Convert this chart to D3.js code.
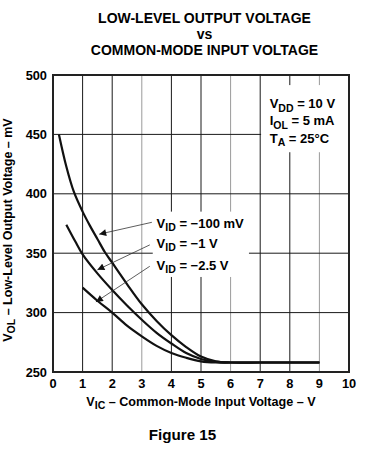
<!DOCTYPE html>
<html>
<head>
<meta charset="utf-8">
<script src="https://cdn.jsdelivr.net/npm/d3@7"></script>
<style>
  html, body { margin: 0; padding: 0; background: #fff; }
  svg { display: block; font-family: "Liberation Sans", Arial, Helvetica, sans-serif; font-weight: bold; }
</style>
</head>
<body>
<svg id="chart" width="367" height="450"></svg>
<script>
// ---- data ----
const xTicks = [0, 1, 2, 3, 4, 5, 6, 7, 8, 9, 10];
const yTicks = [250, 300, 350, 400, 450, 500];

const seriesNames = ["−100 mV", "−1 V", "−2.5 V"];
const vic100mV = [0.2, 0.45, 0.7, 1.0, 1.25, 1.5, 1.75, 2.0, 2.5, 3.0, 3.5, 4.0, 4.5, 5.0, 5.5, 6.0, 7.0, 8.0, 9.0];
const vol100mV = [450, 423, 402, 385, 373, 362, 351, 342, 324, 307, 293, 281, 271, 263, 259, 258, 258, 258, 258];
const vic1V = [0.45, 0.75, 1.0, 1.5, 2.0, 2.5, 3.0, 3.5, 4.0, 4.5, 5.0, 5.5, 6.0, 7.0, 8.0, 9.0];
const vol1V = [374, 360, 349, 333, 319, 306, 294, 283, 274, 266, 261, 258.5, 258, 258, 258, 258];
const vic25V = [1.0, 1.5, 2.0, 2.5, 3.0, 3.5, 4.0, 4.5, 5.0, 5.5, 6.0, 7.0, 8.0, 9.0];
const vol25V = [321, 310, 300, 289, 280, 272, 266, 262, 259, 258, 258, 258, 258, 258];

// annotation anchors in data units: label position, arrow start, arrow tip
const labelX = [3.5, 3.5, 3.5];
const labelY = [371.6, 354.4, 335.9];
const arrowFrom = [[3.34, 376], [3.27, 357], [3.27, 339]];
const arrowTo = [[1.56, 366], [1.50, 336], [1.45, 309]];

const conditions = [["V", "DD", " = 10 V"], ["I", "OL", " = 5 mA"], ["T", "A", " = 25°C"]];
const condX = 7.32;
const condY = [472.2, 457.9, 443];

// ---- layout ----
const svg = d3.select("#chart");
const x = d3.scaleLinear().domain([0, 10]).range([53, 349]);
const y = d3.scaleLinear().domain([250, 500]).range([372, 75]);
const SUB = 10.5, SUBDY = 3.5;

// titles
const titles = [["LOW-LEVEL OUTPUT VOLTAGE", 22.5], ["vs", 38.5], ["COMMON-MODE INPUT VOLTAGE", 55]];
svg.selectAll("text.title").data(titles).enter().append("text")
  .attr("class", "title")
  .attr("x", 204.5).attr("y", d => d[1])
  .attr("text-anchor", "middle")
  .attr("font-size", 14)
  .text(d => d[0]);

// grid
const gridColor = v => (v === 3 || v === 6 || v === 9) ? "#9a9a9a" : "#1a1a1a";
svg.append("g").selectAll("line").data(xTicks.slice(1, -1)).enter().append("line")
  .attr("x1", d => x(d)).attr("x2", d => x(d))
  .attr("y1", y(500)).attr("y2", y(250))
  .attr("stroke", gridColor).attr("stroke-width", 1);
svg.append("g").selectAll("line").data(yTicks.slice(1, -1)).enter().append("line")
  .attr("x1", x(0)).attr("x2", x(10))
  .attr("y1", d => y(d)).attr("y2", d => y(d))
  .attr("stroke", "#1a1a1a").attr("stroke-width", 1);

// white boxes behind annotations
svg.append("rect").attr("x", x(7.03)).attr("y", y(491.5))
  .attr("width", x(10) - x(7.03)).attr("height", y(435) - y(491.5)).attr("fill", "#fff");
svg.append("rect").attr("x", x(3.37)).attr("y", y(385))
  .attr("width", x(6.62) - x(3.37)).attr("height", y(330) - y(385)).attr("fill", "#fff");

// curves
const line = d3.line().x(d => x(d[0])).y(d => y(d[1])).curve(d3.curveCatmullRom.alpha(0.5));
const series = [
  d3.zip(vic100mV, vol100mV),
  d3.zip(vic1V, vol1V),
  d3.zip(vic25V, vol25V)
];
svg.append("g").selectAll("path").data(series).enter().append("path")
  .attr("d", line)
  .attr("fill", "none").attr("stroke", "#111").attr("stroke-width", 2.2);

// frame
svg.append("rect").attr("x", x(0)).attr("y", y(500))
  .attr("width", x(10) - x(0)).attr("height", y(250) - y(500))
  .attr("fill", "none").attr("stroke", "#222").attr("stroke-width", 2);

// axes tick labels
svg.append("g").selectAll("text").data(yTicks).enter().append("text")
  .attr("x", 47).attr("y", d => y(d) + 4.5)
  .attr("text-anchor", "end").attr("font-size", 12.8)
  .text(d => d);
svg.append("g").selectAll("text").data(xTicks).enter().append("text")
  .attr("x", d => x(d)).attr("y", 387.5)
  .attr("text-anchor", "middle").attr("font-size", 12.8)
  .text(d => d);

// axis titles
const xt = svg.append("text").attr("x", 201).attr("y", 405.5)
  .attr("text-anchor", "middle").attr("font-size", 12.6);
xt.append("tspan").text("V");
xt.append("tspan").attr("font-size", SUB).attr("dy", SUBDY).text("IC");
xt.append("tspan").attr("dy", -SUBDY).text(" – Common-Mode Input Voltage – V");

const yt = svg.append("text").attr("transform", "translate(11.5,230) rotate(-90)")
  .attr("text-anchor", "middle").attr("font-size", 12.5);
yt.append("tspan").text("V");
yt.append("tspan").attr("font-size", SUB).attr("dy", SUBDY).text("OL");
yt.append("tspan").attr("dy", -SUBDY).text(" – Low-Level Output Voltage – mV");

// figure caption
svg.append("text").attr("x", 182.5).attr("y", 439.5)
  .attr("text-anchor", "middle").attr("font-size", 15.2)
  .text("Figure 15");

// conditions
conditions.forEach((c, i) => {
  const t = svg.append("text").attr("x", x(condX)).attr("y", y(condY[i])).attr("font-size", 13);
  t.append("tspan").text(c[0]);
  t.append("tspan").attr("font-size", SUB).attr("dy", SUBDY).text(c[1]);
  t.append("tspan").attr("dy", -SUBDY).text(c[2]);
});

// series labels and arrows
svg.append("defs").append("marker")
  .attr("id", "ah").attr("viewBox", "0 0 10 10")
  .attr("refX", 10).attr("refY", 5)
  .attr("markerWidth", 9).attr("markerHeight", 7)
  .attr("markerUnits", "userSpaceOnUse")
  .attr("orient", "auto")
  .append("path").attr("d", "M0,0 L10,5 L0,10 Z").attr("fill", "#111");

seriesNames.forEach((nm, i) => {
  svg.append("line")
    .attr("x1", x(arrowFrom[i][0])).attr("y1", y(arrowFrom[i][1]))
    .attr("x2", x(arrowTo[i][0])).attr("y2", y(arrowTo[i][1]))
    .attr("stroke", "#333").attr("stroke-width", 0.8)
    .attr("marker-end", "url(#ah)");
  const t = svg.append("text").attr("x", x(labelX[i])).attr("y", y(labelY[i])).attr("font-size", 13);
  t.append("tspan").text("V");
  t.append("tspan").attr("font-size", SUB).attr("dy", SUBDY).text("ID");
  t.append("tspan").attr("dy", -SUBDY).text(" = " + nm);
});
</script>
</body>
</html>
